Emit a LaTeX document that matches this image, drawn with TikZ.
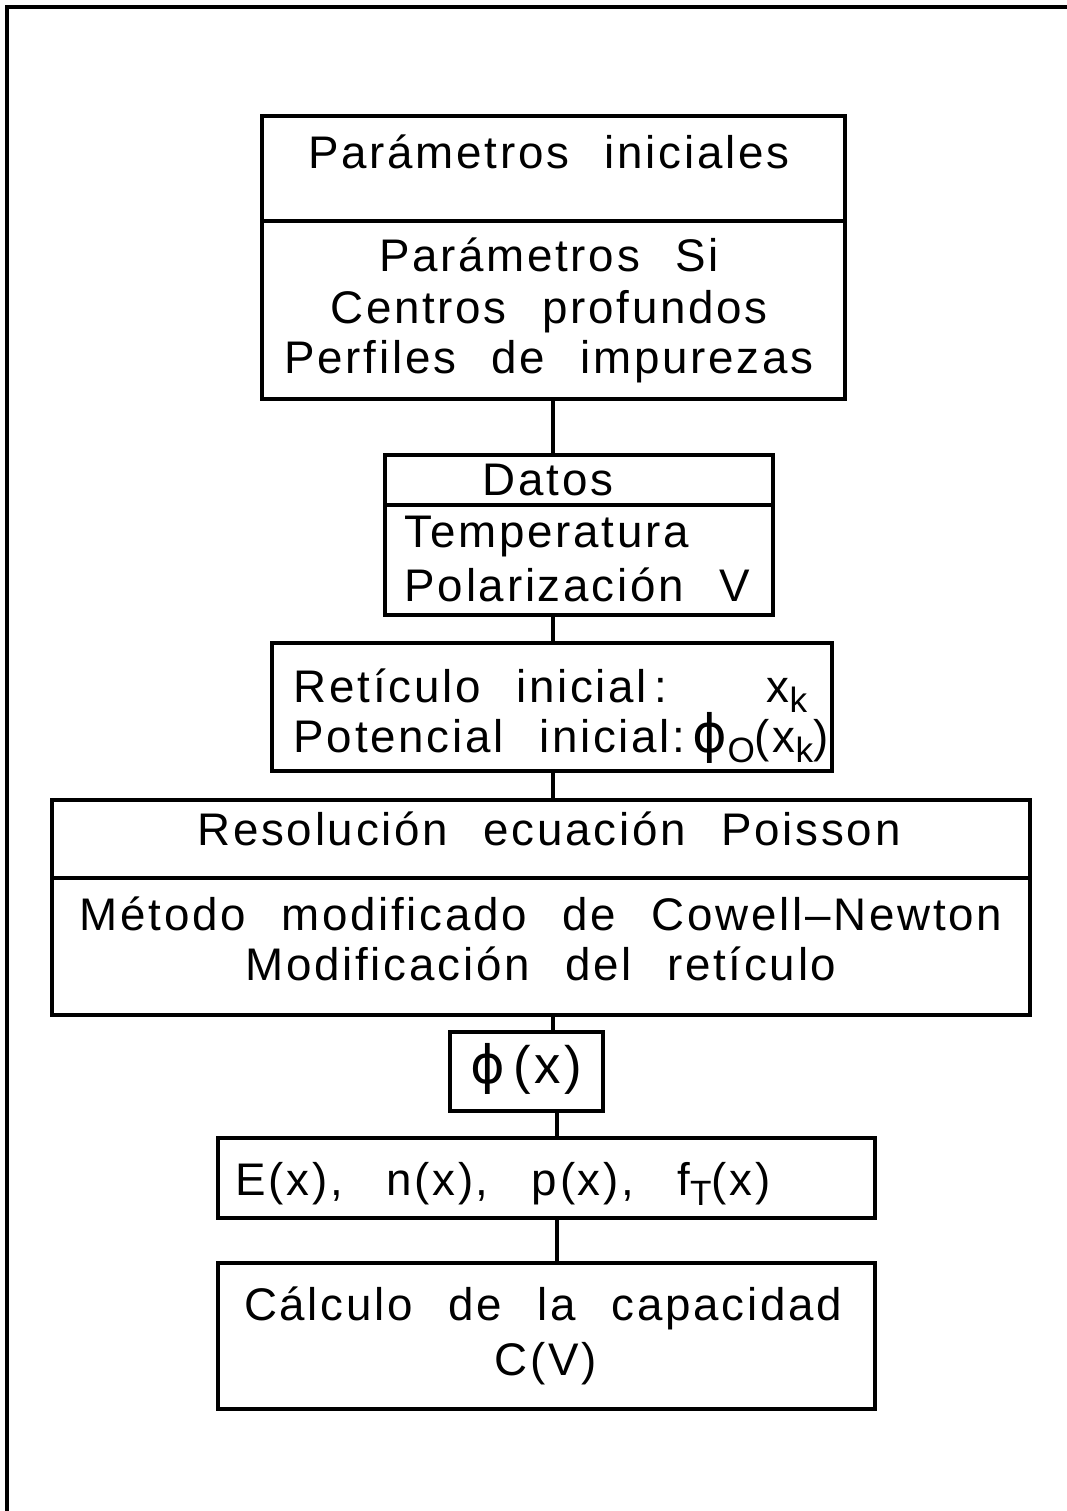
\documentclass[tikz,border=0pt]{standalone}
\usepackage{fontspec}
\setmainfont[LetterSpace=6,WordSpace=2.3]{Liberation Sans}
\newfontfamily\phifont[LetterSpace=6]{DejaVu Sans}
\usetikzlibrary{positioning}
% lowered subscript, larger than \textsubscript
\newcommand{\bajo}[1]{\raisebox{-0.45ex}{\fontsize{10}{10}\selectfont #1}}

\begin{document}
\begin{tikzpicture}[x=0.01cm,y=-0.01cm,
    caja/.style={draw, line width=0.9pt, inner sep=0pt},
    txt/.style={inner sep=0pt, anchor=base, font=\fontsize{13}{15}\selectfont},
    txtl/.style={txt, anchor=base west},
    linea/.style={line width=0.9pt}]
    \useasboundingbox (0,0) rectangle (1067,1511);
    % Frame (top and left sides only)
    \draw[line width=1.2pt] (7,1511) -- (7,7) -- (1067,7);
    % Boxes: name / centre x / centre y / width / height
    \foreach \n/\cx/\cy/\w/\h in {parini/553.5/168.5/583/105, parsi/553.5/310/583/178,
        datos/579/480/388/50, temp/579/560/388/110, retic/552/707/560/128,
        poisson/541/839/978/78, metodo/541/946.5/978/137, phi/526.5/1071.5/153/79,
        campos/546.5/1178/657/80, capac/546.5/1336/657/146} {
        \node[caja, minimum width=\w*0.01cm, minimum height=\h*0.01cm] (\n) at (\cx,\cy) {};
    }
    % Vertical connectors
    \coordinate (eje) at (553,0);
    \coordinate (eje2) at (557,0);
    \foreach \a/\b in {parsi/datos, temp/retic, retic/poisson, metodo/phi} {
        \draw[linea] (\a.south -| eje) -- (\b.north -| eje);
    }
    \foreach \a/\b in {phi/campos, campos/capac} {
        \draw[linea] (\a.south -| eje2) -- (\b.north -| eje2);
    }
    % Texts
    \node[txt] (tparini) at (549,168) {Parámetros iniciales};
    \foreach \t/\y [count=\i] in {Parámetros Si/271, Centros profundos/323, Perfiles de impurezas/373} {
        \node[txt] (tpar\i) at (549,\y) {\t};
    }
    \node[txt] (tdatos) at (548,495) {Datos};
    \node[txtl] (ttemp) at (404,547) {Temperatura};
    \node[txtl] (tpol) at (404,601) {Polarización V};
    \node[txtl] (tret) at (293,702) {Retículo inicial\,:};
    \node[txt] (txk) at (787,702) {x\bajo{k}};
    \node[txtl] (tpot) at (293,752) {Potencial inicial:};
    \node[txtl] (tphi0) at (692,752) {{\phifont\fontsize{15}{15}\selectfont ϕ}\bajo{O}(x\bajo{k})};
    \node[txt] (tres) at (549,845) {Resolución ecuación Poisson};
    \node[txt] (tmet) at (541,930) {Método modificado de Cowell--Newton};
    \node[txt] (tmod) at (541,980) {Modificación del retículo};
    \node[txt] (tphix) at (526,1083) {\fontsize{15}{15}\selectfont{\phifont ϕ}\,(x)};
    \node[txtl] (tcampos) at (235,1195) {E(x),\, n(x),\, p(x),\, f\bajo{T}(x)};
    \node[txt] (tcalc) at (543,1320) {Cálculo de la capacidad};
    \node[txt] (tcv) at (546,1375) {C(V)};
\end{tikzpicture}
\end{document}
